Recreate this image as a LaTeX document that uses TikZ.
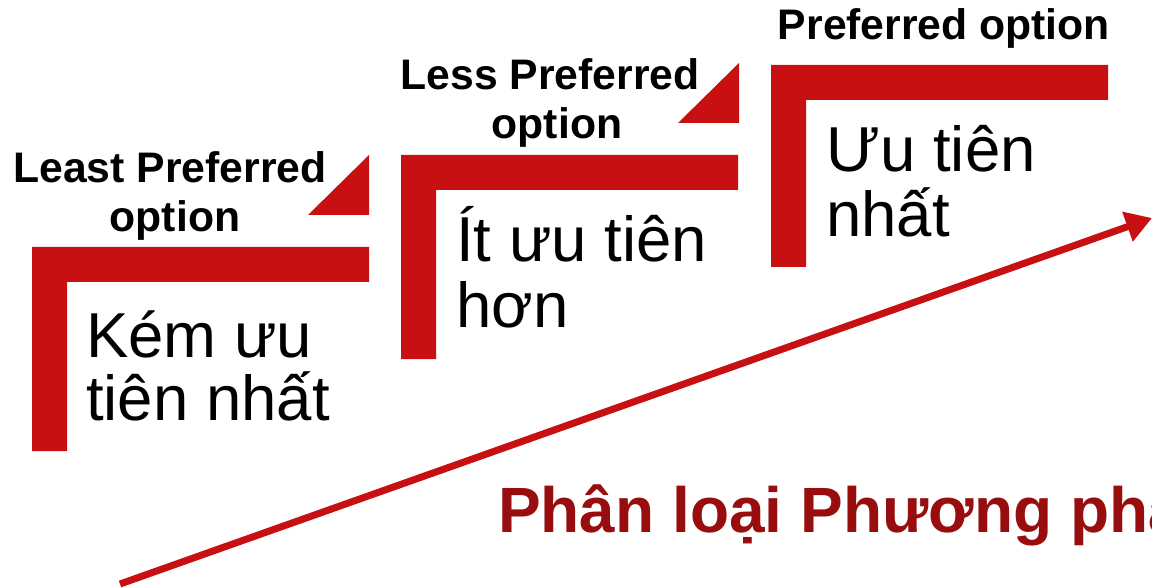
\documentclass[tikz,border=0pt]{standalone}
\usepackage{fontspec}
\setmainfont{Liberation Sans}
\usetikzlibrary{arrows.meta}
\definecolor{stepred}{RGB}{200,16,18}
\definecolor{titlered}{RGB}{152,14,14}
\begin{document}
\begin{tikzpicture}[x=1pt,y=-1pt,
  bar/.style={fill=stepred,draw=none},
  lbl/.style={font=\fontsize{42.7}{48}\selectfont\bfseries,inner sep=0pt,anchor=base},
  big/.style={font=\fontsize{63.5}{66}\selectfont,inner sep=0pt,anchor=base west}]
\useasboundingbox (0,0) rectangle (1152,588);
\clip (0,0) rectangle (1152,588);
% step 1
\path[bar] (32,247) -- (369,247) -- (369,282) -- (67,282) -- (67,451) -- (32,451) -- cycle;
\path[bar] (308,215) -- (369,155) -- (369,215) -- cycle;
% step 2
\path[bar] (401,155) -- (738,155) -- (738,190) -- (436,190) -- (436,359) -- (401,359) -- cycle;
\path[bar] (678,123) -- (739,63) -- (739,123) -- cycle;
% step 3
\path[bar] (771,65) -- (1108,65) -- (1108,100) -- (806,100) -- (806,267) -- (771,267) -- cycle;
% labels
\node[lbl] (l1a) at (170,183) {Least Preferred};
\node[lbl] (l1b) at (175,232) {option};
\node[lbl] (l2a) at (550,90) {Less Preferred};
\node[lbl] (l2b) at (557,139) {option};
\node[lbl] (l3) at (944,40) {Preferred option};
\node[big] (t1a) at (86,357) {Kém ưu};
\node[big] (t1b) at (86,420) {tiên nhất};
\node[big] (t2a) at (456,262) {Ít ưu tiên};
\node[big] (t2b) at (456,327) {hơn};
\node[big] (t3a) at (826,172) {Ưu tiên};
\node[big] (t3b) at (826,237) {nhất};
% arrow
\coordinate (as) at (120,584);
\coordinate (ae) at (1152,218);
\draw[stepred,line width=7pt,-{Triangle[length=26pt,width=30pt]}] (as) -- (ae);
% title
\node[font=\fontsize{64}{70}\selectfont\bfseries,text=titlered,inner sep=0pt,anchor=base west] (title) at (498,532) {Phân loại Phương pháp};
\end{tikzpicture}
\end{document}
